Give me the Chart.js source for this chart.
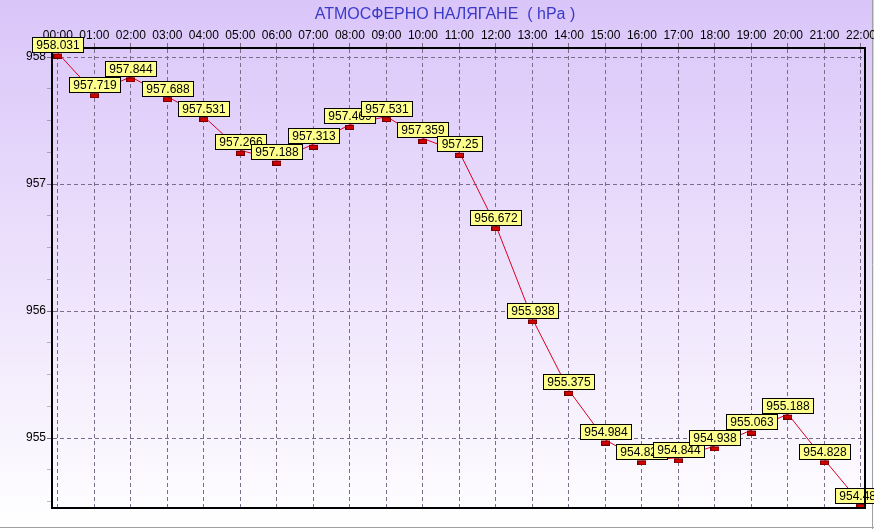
<!DOCTYPE html>
<html>
<head>
<meta charset="utf-8">
<title>Атмосферно налягане</title>
<script src="https://cdn.jsdelivr.net/npm/chart.js@4/dist/chart.umd.min.js"></script>
<style>
    body { margin: 0; background: #ffffff; }
    #wrap { width: 874px; height: 529px; }
</style>
</head>
<body>
<div id="wrap"><canvas id="pressureChart" width="874" height="529"></canvas></div>
<script>
// Chart data
const chartTitle = 'АТМОСФЕРНО НАЛЯГАНЕ  ( hPa )';
const hours = [
    '00:00', '01:00', '02:00', '03:00', '04:00', '05:00', '06:00', '07:00',
    '08:00', '09:00', '10:00', '11:00', '12:00', '13:00', '14:00', '15:00',
    '16:00', '17:00', '18:00', '19:00', '20:00', '21:00', '22:00'
];
const pressures = [
    958.031, 957.719, 957.844, 957.688, 957.531, 957.266, 957.188, 957.313,
    957.469, 957.531, 957.359, 957.25, 956.672, 955.938, 955.375, 954.984,
    954.828, 954.844, 954.938, 955.063, 955.188, 954.828, 954.484
];
const yTicks = [955, 956, 957, 958];

const FONT = '"Liberation Sans", Arial, sans-serif';
const GRID_COLOR = '#7b6d8a';

// Small red marker, drawn just under the point
function makeMarker() {
    const c = document.createElement('canvas');
    c.width = 9;
    c.height = 11;
    const g = c.getContext('2d');
    g.fillStyle = '#d40000';
    g.fillRect(0, 6, 9, 5);
    g.strokeStyle = '#700000';
    g.lineWidth = 1;
    g.strokeRect(0.5, 6.5, 8, 4);
    return c;
}

// Background gradient, title and outer frame
const backgroundPlugin = {
    id: 'background',
    beforeDraw(chart) {
        const { ctx, width, height } = chart;
        const grad = ctx.createLinearGradient(0, 0, 0, height);
        grad.addColorStop(0, '#dac5f9');
        grad.addColorStop(0.55, '#eee4fc');
        grad.addColorStop(1, '#ffffff');
        ctx.save();
        ctx.fillStyle = grad;
        ctx.fillRect(0, 0, width, height);

        ctx.strokeStyle = '#a0a0a0';
        ctx.lineWidth = 1;
        ctx.beginPath();
        ctx.moveTo(0, height - 1.5);
        ctx.lineTo(width, height - 1.5);
        ctx.moveTo(width - 1.5, 0);
        ctx.lineTo(width - 1.5, height);
        ctx.stroke();

        ctx.fillStyle = '#3a3ac8';
        ctx.font = '16px ' + FONT;
        ctx.textAlign = 'center';
        ctx.textBaseline = 'middle';
        ctx.fillText(chartTitle, 445, 15);
        ctx.restore();
    },
    afterDraw(chart) {
        // right and bottom edges of the plot box
        const { ctx, chartArea } = chart;
        ctx.save();
        ctx.strokeStyle = '#000000';
        ctx.lineWidth = 2;
        ctx.beginPath();
        ctx.moveTo(chartArea.right, chartArea.top - 1);
        ctx.lineTo(chartArea.right, chartArea.bottom);
        ctx.lineTo(chartArea.left - 1, chartArea.bottom);
        ctx.stroke();
        ctx.restore();
    }
};

// Yellow value boxes above every point
const valueLabelPlugin = {
    id: 'valueLabels',
    afterDatasetsDraw(chart) {
        const { ctx } = chart;
        const meta = chart.getDatasetMeta(0);
        ctx.save();
        ctx.font = '12px ' + FONT;
        ctx.textAlign = 'center';
        ctx.textBaseline = 'middle';
        meta.data.forEach((pt, i) => {
            const text = String(pressures[i]);
            const w = Math.round(ctx.measureText(text).width) + 8;
            const h = 15;
            const x = Math.round(pt.x - w / 2) + 0.5;
            const y = Math.round(pt.y - 1 - h) + 0.5;
            ctx.fillStyle = '#ffff8c';
            ctx.fillRect(x, y, w, h);
            ctx.strokeStyle = '#000000';
            ctx.lineWidth = 1;
            ctx.strokeRect(x, y, w, h);
            ctx.fillStyle = '#000000';
            ctx.fillText(text, x + w / 2, y + h / 2 + 1);
        });
        ctx.restore();
    }
};

// Initialize pressure chart
function initializePressureChart() {
    const ctx = document.getElementById('pressureChart').getContext('2d');
    const points = pressures.map((v, i) => ({ x: i, y: v }));

    new Chart(ctx, {
        type: 'line',
        data: {
            datasets: [{
                data: points,
                borderColor: '#dd0022',
                borderWidth: 1,
                tension: 0,
                pointStyle: makeMarker(),
                pointRadius: 5,
                pointHoverRadius: 5,
                clip: false
            }]
        },
        options: {
            responsive: false,
            devicePixelRatio: 1,
            animation: false,
            layout: { padding: { left: 0, top: 0, right: 9, bottom: 21 } },
            scales: {
                x: {
                    type: 'linear',
                    position: 'top',
                    min: -0.16,
                    max: 22.11,
                    afterFit: (scale) => {
                        scale.height = 48;
                        scale.paddingLeft = 0;
                        scale.paddingRight = 0;
                    },
                    ticks: {
                        stepSize: 1,
                        includeBounds: false,
                        autoSkip: false,
                        maxRotation: 0,
                        padding: 0,
                        color: '#000000',
                        font: { family: FONT, size: 12 },
                        callback: (v) => hours[v] ?? ''
                    },
                    grid: {
                        color: GRID_COLOR,
                        tickColor: GRID_COLOR,
                        tickLength: 5,
                        lineWidth: 1
                    },
                    border: { display: true, color: '#000000', width: 2, dash: [4, 3] }
                },
                y: {
                    min: 954.449,
                    max: 958.071,
                    afterFit: (scale) => {
                        scale.width = 52;
                        scale.paddingTop = 0;
                        scale.paddingBottom = 0;
                    },
                    ticks: {
                        stepSize: 0.25,
                        includeBounds: false,
                        padding: 1,
                        color: '#000000',
                        font: { family: FONT, size: 12 },
                        callback: (v) => yTicks.includes(v) ? String(v) : ''
                    },
                    grid: {
                        color: (c) => yTicks.includes(c.tick && c.tick.value) ? GRID_COLOR : 'rgba(0,0,0,0)',
                        tickColor: (c) => yTicks.includes(c.tick && c.tick.value) ? GRID_COLOR : 'rgba(0,0,0,0.25)',
                        tickLength: 5,
                        lineWidth: 1
                    },
                    border: { display: true, color: '#000000', width: 2, dash: [4, 3] }
                }
            },
            plugins: {
                legend: { display: false },
                title: { display: false },
                tooltip: { enabled: false }
            }
        },
        plugins: [backgroundPlugin, valueLabelPlugin]
    });
}

document.addEventListener('DOMContentLoaded', initializePressureChart);
</script>
</body>
</html>
